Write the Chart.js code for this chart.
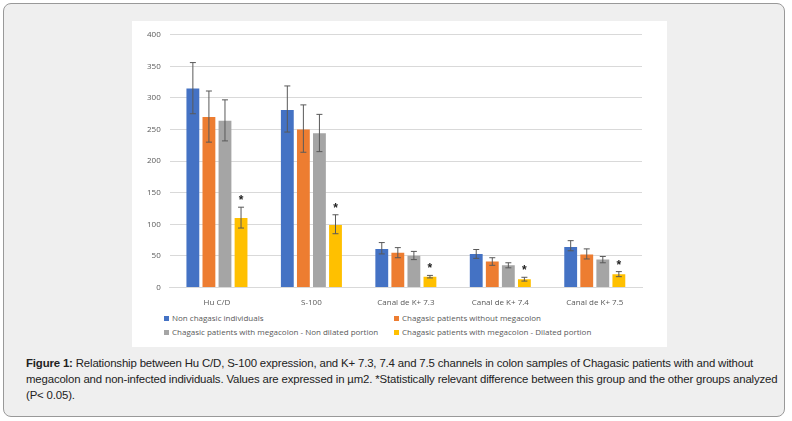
<!DOCTYPE html>
<html>
<head>
<meta charset="utf-8">
<script src="https://cdn.jsdelivr.net/npm/chart.js@4"></script>
<style>
  body { margin: 0; background: #fff; font-family: "Liberation Sans", Arial, sans-serif; }
  #frame { position: absolute; left: 3px; top: 3px; width: 780px; height: 412px; background: #efefef; border: 1px solid #999; border-radius: 8px; }
  #box { position: absolute; left: 128px; top: 17px; width: 535px; height: 326px; background: #fff; }
  #wrap { position: absolute; left: 0; top: 0; width: 535px; height: 290px; }
  #legend { position: absolute; left: 32px; top: 291px; width: 480px; font-family: "Open Sans", sans-serif; font-size: 8px; color: #595959; }
  #legend div { position: absolute; white-space: nowrap; }
  #legend span { display: inline-block; width: 5px; height: 5px; margin-right: 3px; }
  #caption { position: absolute; left: 22px; top: 351px; width: 752px; font-size: 11.4px; line-height: 16px; color: #222; letter-spacing: -0.15px; }
</style>
</head>
<body>
<div id="frame">
  <div id="box">
    <div id="wrap"><canvas id="grafik"></canvas></div>
    <div id="legend"></div>
  </div>
  <div id="caption"><b>Figure 1:</b> Relationship between Hu C/D, S-100 expression, and K+ 7.3, 7.4 and 7.5 channels in colon samples of Chagasic patients with and without megacolon and non-infected individuals. Values are expressed in µm2. *Statistically relevant difference between this group and the other groups analyzed (P&lt; 0.05).</div>
</div>
<script>
// Kategori dan nilai yang dibaca dari gambar.
const kategori = ['Hu C/D', 'S-100', 'Canal de K+ 7.3', 'Canal de K+ 7.4', 'Canal de K+ 7.5'];
const namaSeri = ['Non chagasic individuals', 'Chagasic patients without megacolon',
                  'Chagasic patients with megacolon - Non dilated portion', 'Chagasic patients with megacolon - Dilated portion'];
const warna = ['#4472C4', '#ED7D31', '#A5A5A5', '#FFC000'];
const nonChagasic = [315, 281, 61, 53, 64];
const tanpaMegakolon = [270, 250, 55, 41, 52];
const nonDilatasi = [264, 244, 50, 35, 44];
const dilatasi = [110, 99, 17, 13, 21];
const galatBawah = [[275, 246, 53, 46, 58], [230, 214, 47, 35, 45], [232, 215, 44, 31, 39], [94, 85, 15, 10, 17]];
const galatAtas = [[356, 319, 71, 60, 74], [311, 289, 63, 47, 61], [297, 274, 57, 39, 49], [127, 115, 19, 16, 25]];
const bintang = [true, true, true, true, true]; // tanda * di seri terakhir
const tickY = [0, 50, 100, 150, 200, 250, 300, 350, 400];

const semuaSeri = [nonChagasic, tanpaMegakolon, nonDilatasi, dilatasi];

// Plugin untuk error bar dan tanda bintang.
const errorBar = {
  id: 'errorBar',
  afterDatasetsDraw(chart) {
    const ctx = chart.ctx, y = chart.scales.y;
    chart.data.datasets.forEach((ds, i) => {
      chart.getDatasetMeta(i).data.forEach((bar, j) => {
        const yb = y.getPixelForValue(galatBawah[i][j]);
        const ya = y.getPixelForValue(galatAtas[i][j]);
        ctx.save();
        ctx.strokeStyle = '#595959';
        ctx.lineWidth = 1;
        ctx.beginPath();
        ctx.moveTo(bar.x, yb); ctx.lineTo(bar.x, ya);
        ctx.moveTo(bar.x - 3, yb); ctx.lineTo(bar.x + 3, yb);
        ctx.moveTo(bar.x - 3, ya); ctx.lineTo(bar.x + 3, ya);
        ctx.stroke();
        if (i === 3 && bintang[j]) {
          ctx.fillStyle = '#222';
          ctx.font = 'bold 12px "Liberation Sans", Arial';
          ctx.textAlign = 'center';
          ctx.fillText('*', bar.x, ya - 3);
        }
        ctx.restore();
      });
    });
  }
};

new Chart(document.getElementById('grafik'), {
  type: 'bar',
  data: {
    labels: kategori,
    datasets: semuaSeri.map((d, i) => ({ label: namaSeri[i], data: d, backgroundColor: warna[i] }))
  },
  options: {
    responsive: true,
    maintainAspectRatio: false,
    animation: false,
    layout: { padding: { left: 6, right: 25, top: 12, bottom: 0 } },
    datasets: { bar: { categoryPercentage: 0.68, barPercentage: 0.8 } },
    plugins: { legend: { display: false }, tooltip: { enabled: false } },
    scales: {
      x: {
        grid: { display: false },
        border: { color: '#d9d9d9' },
        ticks: { color: '#595959', font: { family: 'Open Sans', size: 8 } }
      },
      y: {
        min: 0, max: 400,
        afterBuildTicks: ax => { ax.ticks = tickY.map(v => ({ value: v })); },
        grid: { color: '#d9d9d9', drawTicks: false },
        border: { display: false },
        ticks: { color: '#595959', font: { family: 'Open Sans', size: 8 }, padding: 9 }
      }
    }
  },
  plugins: [errorBar]
});

// Legenda HTML dua kolom.
const posisi = [[0, 0], [230, 0], [0, 14], [230, 14]];
document.getElementById('legend').innerHTML = namaSeri.map((n, i) =>
  `<div style="left:${posisi[i][0]}px;top:${posisi[i][1]}px"><span style="background:${warna[i]}"></span>${n}</div>`).join('');
</script>
</body>
</html>
